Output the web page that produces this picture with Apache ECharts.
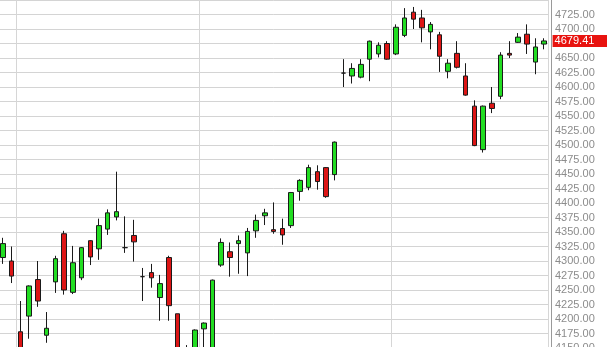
<!DOCTYPE html>
<html>
<head>
<meta charset="utf-8">
<script src="https://cdn.jsdelivr.net/npm/echarts@6/dist/echarts.min.js"></script>
<style>
html,body{margin:0;padding:0;background:#fff;}
#chart{width:607px;height:347px;}
</style>
</head>
<body>
<div id="chart"></div>
<script>
// Daily candles (index labels; dates not shown in the reference)
var categories = [];
for (var i = 1; i <= 63; i++) categories.push('Day ' + i);

var opens  = [4306,4300,4178,4205,4268,4172,4264,4347,4246,4271,4335,4321,4355,4376,4323,4344,4273,4280,4237,4306,4209,4138,4140,4183,4145,4293,4316,4330,4314,4352,4378,4354,4356,4361,4420,4427,4454,4461,4449,4624,4619,4617,4648,4657,4675,4657,4689,4729,4719,4695,4690,4627,4658,4619,4567,4492,4572,4584,4658,4677,4691,4643,4674];
var closes = [4330,4274,4140,4257,4231,4184,4304,4250,4297,4323,4307,4361,4383,4385,4323,4333,4273,4271,4261,4223,4130,4146,4181,4193,4267,4332,4306,4335,4351,4370,4383,4351,4345,4418,4439,4461,4437,4411,4505,4624,4632,4639,4679,4672,4648,4703,4719,4717,4702,4708,4653,4641,4634,4586,4499,4567,4563,4655,4655,4686,4674,4669,4679.41];
var lows   = [4295,4262,4128,4166,4221,4159,4245,4242,4243,4267,4293,4302,4345,4370,4314,4299,4231,4254,4197,4197,4118,4125,4132,4140,4140,4290,4273,4278,4274,4340,4362,4347,4328,4357,4404,4422,4423,4409,4439,4600,4606,4615,4610,4651,4647,4655,4686,4700,4677,4665,4626,4615,4632,4585,4498,4487,4555,4579,4650,4676,4657,4622,4665];
var highs  = [4340,4325,4231,4258,4300,4212,4309,4352,4326,4324,4336,4373,4389,4454,4377,4371,4288,4295,4276,4309,4209,4155,4182,4194,4268,4339,4332,4344,4357,4380,4390,4401,4373,4419,4441,4466,4465,4462,4506,4648,4641,4648,4680,4677,4679,4708,4736,4738,4733,4712,4695,4648,4679,4641,4577,4568,4600,4660,4679,4693,4708,4684,4684];

// indices where a new month starts (vertical separators)
var monthStarts = [2, 23, 45];

var yMin = 4150, yMax = 4750, yStep = 25;

var data = [];
for (var k = 0; k < categories.length; k++) {
  data.push([opens[k], closes[k], lows[k], highs[k]]);
}
var lastClose = closes[closes.length - 1];

var chart = echarts.init(document.getElementById('chart'), null, {renderer: 'canvas'});
chart.setOption({
  animation: false,
  backgroundColor: '#ffffff',
  grid: {left: -1.4, right: 58.4, top: 0, bottom: -1, containLabel: false, outerBoundsMode: 'none'},
  xAxis: {
    type: 'category',
    data: categories,
    boundaryGap: true,
    axisLine: {show: false},
    axisTick: {show: false},
    axisLabel: {show: false},
    splitLine: {
      show: true,
      interval: function (idx) { return monthStarts.indexOf(idx) >= 0; },
      lineStyle: {color: '#d6d6d6', width: 1}
    }
  },
  yAxis: {
    type: 'value',
    position: 'right',
    offset: 2.4,
    min: yMin,
    max: yMax,
    interval: yStep,
    axisLine: {show: true, lineStyle: {color: '#9a9a9a', width: 1}},
    axisTick: {show: false},
    axisLabel: {
      show: true,
      margin: 4,
      color: '#8c8c8c',
      fontSize: 11,
      fontFamily: 'Liberation Sans, Arial, sans-serif',
      showMaxLabel: false,
      hideOverlap: false,
      formatter: function (v) { return v.toFixed(2); }
    },
    splitLine: {show: true, lineStyle: {color: '#d4d4d4', width: 1}}
  },
  series: [{
    type: 'candlestick',
    data: data,
    barWidth: 5,
    clip: false,
    itemStyle: {
      color: '#22dd22',
      color0: '#dd1515',
      borderColor: '#1a1a1a',
      borderColor0: '#1a1a1a',
      borderColorDoji: '#1a1a1a',
      borderWidth: 1
    },
    markLine: {
      silent: true,
      symbol: ['none', 'none'],
      lineStyle: {color: 'rgba(0,0,0,0)', width: 0, type: 'solid'},
      label: {
        show: true,
        position: 'end',
        distance: 4,
        color: '#ffffff',
        backgroundColor: '#e8130f',
        fontSize: 11,
        fontFamily: 'Liberation Sans, Arial, sans-serif',
        padding: [1, 20, 0, 2],
        formatter: function () { return lastClose.toFixed(2); }
      },
      data: [{yAxis: lastClose}]
    }
  }]
});
</script>
</body>
</html>
